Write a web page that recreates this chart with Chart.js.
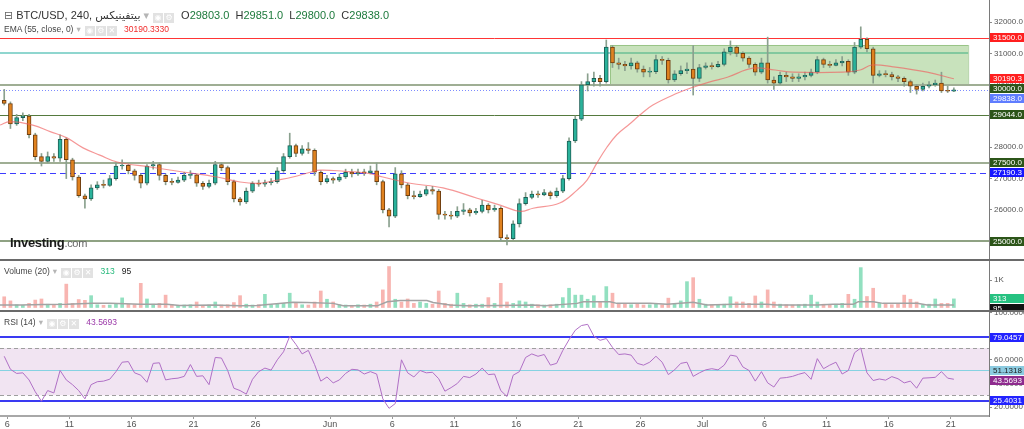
<!DOCTYPE html>
<html lang="en">
<head>
<meta charset="UTF-8">
<meta name="viewport" content="width=device-width, initial-scale=1.0">
<title>BTC/USD, 240</title>
<script src="https://cdn.jsdelivr.net/npm/chart.js"></script>
<style>
  body { margin: 0; background: #fff; font-family: 'Liberation Sans', Arial, 'DejaVu Sans', sans-serif; }
  #board { position: relative; width: 1024px; height: 429px; overflow: hidden; background: #fff; }
  #board canvas { position: absolute; left: 0; }
  #priceCanvas { top: 0; }
  #volCanvas { top: 261px; }
  #rsiCanvas { top: 312px; }
  .sep { position: absolute; left: 0; width: 1024px; height: 2px; background: #6a6a6a; }
  .legend { position: absolute; left: 4px; white-space: nowrap; color: #444; }
  .legend .dd { color: #b5b5b5; margin: 0 4px 0 3px; }
  .ic { display: inline-block; width: 10px; height: 10px; background: #e2e2e2; color: #fff; font-size: 8px; line-height: 10px; text-align: center; margin-right: 1px; vertical-align: -1px; font-family: 'DejaVu Sans', sans-serif; }
  .ohlc i { font-style: normal; color: #1d7a3c; }
  .logo { position: absolute; left: 10px; top: 235px; font-size: 13px; font-weight: bold; color: #1b1b1b; letter-spacing: -0.3px; }
  .logo span { font-weight: normal; color: #666; font-size: 11px; }
</style>
</head>
<body>
<div id="board">
  <canvas id="priceCanvas" width="1024" height="259"></canvas>
  <div class="sep" style="top:259px"></div>
  <canvas id="volCanvas" width="1024" height="49"></canvas>
  <div class="sep" style="top:310px"></div>
  <canvas id="rsiCanvas" width="1024" height="117"></canvas>

  <div class="legend" style="top:8px;font-size:11px;line-height:14px;color:#333">
    <span style="color:#666;font-family:'DejaVu Sans',sans-serif">⊟</span> BTC/USD, 240, <bdi>بيتفينيكس</bdi><span class="dd">▾</span><span class="ic">◉</span><span class="ic">⚙</span>
    <span class="ohlc" style="margin-left:3px">O<i>29803.0</i>&nbsp; H<i>29851.0</i>&nbsp; L<i>29800.0</i>&nbsp; C<i>29838.0</i></span>
  </div>
  <div class="legend" style="top:24px;font-size:8.5px;line-height:11px">
    EMA (55, close, 0)<span class="dd">▾</span><span class="ic">◉</span><span class="ic">⚙</span><span class="ic">✕</span>
    <span style="color:#f02a2a;margin-left:4px">30190.3330</span>
  </div>
  <div class="logo">Investing<span>.com</span></div>
  <div class="legend" style="top:266px;font-size:8.5px;line-height:11px">
    Volume (20)<span class="dd">▾</span><span class="ic">◉</span><span class="ic">⚙</span><span class="ic">✕</span>
    <span style="color:#25b97c;margin-left:4px">313</span>&nbsp;&nbsp; <span style="color:#222">95</span>
  </div>
  <div class="legend" style="top:317px;font-size:8.5px;line-height:11px">
    RSI (14)<span class="dd">▾</span><span class="ic">◉</span><span class="ic">⚙</span><span class="ic">✕</span>
    <span style="color:#9b38a8;margin-left:4px">43.5693</span>
  </div>
</div>

<script>
  // 12h candles, index 0 = May 5 12:00 ... 153 = Jul 21 00:00
  const opens = [
    29500,29400,28750,28950,29000,28400,27700,27550,27700,27650,
    28250,27600,27050,26450,26350,26700,26800,26780,27000,27400,
    27420,27250,27100,26850,27400,27450,27100,26900,26880,26950,
    27100,27120,26850,26750,26850,27450,27350,26900,26350,26250,
    26600,26850,26820,26870,26900,27250,27700,28050,27800,27950,
    27900,27200,26900,27000,26950,27050,27200,27150,27200,27180,
    27250,26900,26000,25800,27150,26800,26450,26420,26500,26650,
    26600,25850,25830,25800,25950,26000,25900,25950,26150,26000,
    26050,25100,25080,25550,26200,26400,26500,26480,26550,26450,
    26600,27000,28200,28900,30000,30100,30200,30100,31200,30700,
    30650,30600,30700,30500,30400,30420,30800,30780,30150,30350,
    30450,30500,30200,30550,30600,30580,30650,31050,31200,31000,
    30850,30650,30400,30700,30150,30050,30300,30250,30200,30250,
    30300,30400,30800,30650,30620,30700,30750,30400,31200,31450,
    31150,30300,30350,30320,30250,30200,30100,29950,29850,29950,
    30000,30050,29800,29790
  ];
  const highs = [
    29850,29450,29050,29100,29050,28450,27800,27850,27800,28400,
    28300,27650,27100,26500,26800,26900,26950,27100,27500,27600,
    27450,27300,27150,27450,27550,27500,27150,27000,27050,27200,
    27250,27150,26900,26950,27550,27500,27400,26950,26400,26700,
    26900,26950,26950,27000,27350,27800,28450,28100,28050,28150,
    27950,27250,27100,27050,27150,27300,27300,27300,27300,27400,
    27500,26950,26050,27350,27250,26850,26600,26600,26750,26750,
    26650,25950,25950,26100,26200,26050,26050,26300,26200,26150,
    26100,25200,25650,26350,26550,26600,26600,26650,26600,26700,
    27100,28300,29000,30100,30350,30400,30300,31430,31250,30850,
    30750,30850,30750,30600,30550,30950,30900,30850,30450,30600,
    30700,31250,30650,30700,30700,30750,31150,31400,31250,31050,
    30900,30700,30850,31520,30250,30400,30400,30350,30350,30400,
    30500,30900,30850,30750,30800,30900,30800,31350,31850,31500,
    31200,30450,30450,30400,30300,30250,30150,30000,30050,30100,
    30150,30400,29950,29900
  ];
  const lows = [
    29350,28600,28700,28850,28300,27600,27400,27500,27550,27550,
    27000,26950,26400,26050,26300,26650,26700,26750,26950,27300,
    27150,26950,26700,26800,27300,26950,26800,26800,26850,26900,
    27000,26750,26650,26700,26800,27250,26800,26250,26150,26200,
    26550,26750,26750,26800,26850,27200,27650,27700,27750,27800,
    27100,26800,26850,26850,26900,27000,27050,27100,27100,27150,
    26800,25900,25450,25750,26700,26350,26350,26400,26450,26500,
    25700,25700,25700,25750,25850,25800,25850,25900,25900,25950,
    25000,24880,25050,25450,26150,26350,26400,26450,26350,26400,
    26550,26950,28150,28850,29800,29950,29950,30050,30550,30500,
    30450,30500,30400,30250,30250,30350,30650,30050,30100,30300,
    30350,29670,30100,30500,30500,30550,30600,30950,30900,30750,
    30550,30300,30350,30050,29850,30000,30100,30100,30100,30150,
    30250,30350,30550,30550,30600,30600,30300,30350,31150,31050,
    30050,30250,30250,30150,30100,29950,29750,29700,29800,29900,
    29950,29750,29750,29780
  ];
  const closes = [
    29400,28750,28950,29000,28400,27700,27550,27700,27650,28250,
    27600,27050,26450,26350,26700,26800,26780,27000,27400,27420,
    27250,27100,26850,27400,27450,27100,26900,26880,26950,27100,
    27120,26850,26750,26850,27450,27350,26900,26350,26250,26600,
    26850,26820,26870,26900,27250,27700,28050,27800,27950,27900,
    27200,26900,27000,26950,27050,27200,27150,27200,27180,27250,
    26900,26000,25800,27150,26800,26450,26420,26500,26650,26600,
    25850,25830,25800,25950,26000,25900,25950,26150,26000,26050,
    25100,25080,25550,26200,26400,26500,26480,26550,26450,26600,
    27000,28200,28900,30000,30100,30200,30100,31200,30700,30650,
    30600,30700,30500,30400,30420,30800,30780,30150,30350,30450,
    30500,30200,30550,30600,30580,30650,31050,31200,31000,30850,
    30650,30400,30700,30150,30050,30300,30250,30200,30250,30300,
    30400,30800,30650,30620,30700,30750,30400,31200,31450,31150,
    30300,30350,30320,30250,30200,30100,29950,29850,29950,30000,
    30050,29800,29790,29838
  ];
  const volumes = [
    390,240,100,80,150,270,310,120,90,150,
    850,150,290,260,430,100,80,90,150,350,
    120,100,880,310,120,150,450,100,80,90,
    100,200,80,90,200,90,100,180,430,120,
    90,100,480,100,120,150,520,150,100,90,
    200,600,300,200,100,90,80,100,90,120,
    200,640,1490,300,200,310,150,200,150,120,
    600,150,120,520,150,100,120,120,360,150,
    880,200,150,240,200,120,100,90,100,120,
    360,700,450,450,300,430,200,760,520,150,
    120,100,120,90,100,120,100,340,150,240,
    940,1085,300,120,100,90,120,390,200,200,
    150,420,200,640,200,120,100,90,100,120,
    450,200,120,100,120,150,480,300,1450,400,
    700,150,120,100,150,450,300,200,100,120,
    310,150,150,313
  ];
  const rsiValues = [
    63,52,48.5,49,43,33,25,34,32,51,
    43,39,34,27,39,41.5,42,43.6,50,58,
    58.5,49,47,41,57,57.5,43,44,44.5,46,
    56,46,46.5,39,62,61.5,51,36,34,31,
    43.5,50,53,51.3,60,66.8,80,73,65,68,
    56,42,45.5,40.5,43,48.5,52,51.5,48,50,
    48,27,19,23,60,49,45.5,51,49,49.5,
    44,33.5,36.5,40,46,45,48,53,47.5,48,
    34,29,47,50,62,65,63,64.5,55.5,57,
    68,77,85,89,90,80,76.5,78,70.5,64.5,
    65,64,57,55.5,58,63,58,47.5,51.5,57,
    58,46,49,51.5,52.5,51.5,55.5,64,63,54,
    51,42,50,40.5,37,44.5,45,46,47.8,49.2,
    43.5,61,52.5,55.5,58,48,51,66,70,49,
    42.5,43.8,42.8,45.8,44,40.5,42,36,44.5,44.8,
    45.2,50,44.5,43.57
  ];
  // EMA(55) at these candle positions
  const emaPos = [-0.68,0.9,4.6,7.4,10.1,12.7,15.4,18.2,23.5,28.8,34.3,38.0,41.2,44.0,46.5,49.3,50.9,54.9,58.5,61.0,65.4,70.7,76.2,79.9,83.1,85.2,89.5,92.3,93.9,95.5,97.1,98.7,100.8,102.4,104.5,108.4,111.0,113.7,116.5,120.6,124.2,127.1,135.1,137.9,139.8,143.2,148.7,153];
  const emaValues = [28710,28820,28710,28500,28300,27980,27750,27530,27370,27210,27050,26890,26850,26950,27050,27200,27270,27230,27170,27050,26850,26700,26370,26150,25950,26050,26220,26630,26950,27500,28000,28400,28750,29030,29350,29725,29920,30090,30240,30530,30470,30400,30400,30470,30630,30570,30400,30190];
  const volMaPos = [-0.68,2.6,6.3,10.1,14.3,17.1,21.9,26.2,28.3,33.6,38.0,40.7,46.5,48.8,53.0,54.6,60.1,61.7,63.8,68.1,69.1,71.8,74.6,79.9,85.2,87.1,92.3,93.3,97.6,98.7,104.1,106.8,111.0,113.2,117.4,122.9,124.5,131.0,133.5,136.8,137.6,140.0,141.6,147.1,148.7,153];
  const volMaValues = [90,90,110,115,150,150,115,115,70,90,65,70,190,180,150,60,60,210,250,250,180,90,60,75,90,67,150,210,210,150,150,115,188,90,115,115,90,90,115,115,212,212,150,150,91,95];

  const dateTickPos = [0.5,10.5,20.5,30.5,40.5,52.5,62.5,72.5,82.5,92.5,102.5,112.5,122.5,132.5,142.5,152.5];
  const dateTickLabels = ['6','11','16','21','26','Jun','6','11','16','21','26','Jul','6','11','16','21'];
  const priceTicks = [25000,26000,27000,28000,29000,30000,31000,32000];
  const volTicks = [1000];
  const rsiTicks = [20,40,60,80,100];

  const levelValues = [31500, 30000, 29044, 27500, 27190.3, 25000];
  const channelLevel = 31000;
  const zoneHigh = 31270, zoneLow = 30000, zoneFrom = 97.6, zoneTo = 155.3;
  const lastPrice = 29838.0, emaLast = 30190.333;
  const lastVolume = 313, lastVolMa = 95;
  const rsiLast = 43.5693, rsiUpper = 79.0457, rsiMid = 51.1318, rsiLower = 25.4031;
  const rsiBand = [30, 70];

  const X_MIN = -0.68, X_MAX = 158.66;
  const FONT = "'Liberation Sans', Arial, sans-serif";
  const isUp = closes.map((c, i) => c >= opens[i]);

  function hLine(ctx, x1, x2, y, color, width, dash) {
    const py = width % 2 ? Math.round(y) + 0.5 : Math.round(y);
    ctx.save();
    ctx.strokeStyle = color;
    ctx.lineWidth = width;
    ctx.setLineDash(dash || []);
    ctx.beginPath();
    ctx.moveTo(x1, py);
    ctx.lineTo(x2, py);
    ctx.stroke();
    ctx.restore();
  }

  function drawTags(chart, tags) {
    const { ctx, chartArea: a, scales: { y } } = chart;
    const boxH = 9, minGap = 10;
    const list = tags.map(t => ({ ...t, py: y.getPixelForValue(t.value) })).sort((p, q) => p.py - q.py);
    for (let k = 1; k < list.length; k++) {
      if (list[k].py < list[k - 1].py + minGap) list[k].py = list[k - 1].py + minGap;
    }
    ctx.save();
    ctx.font = '8px ' + FONT;
    ctx.textBaseline = 'middle';
    list.forEach(t => {
      const top = Math.round(t.py - boxH / 2);
      ctx.fillStyle = t.bg;
      ctx.fillRect(a.right + 1, top, chart.width - a.right - 1, boxH);
      ctx.fillStyle = t.fg;
      ctx.fillText(t.text, a.right + 4, top + boxH / 2 + 0.5);
    });
    ctx.restore();
  }

  function rightAxis(min, max, tickVals, fmt) {
    return {
      position: 'right', min, max, beginAtZero: false,
      afterBuildTicks: s => { s.ticks = tickVals.map(v => ({ value: v })); },
      afterFit: s => { s.width = 35; s.paddingTop = 0; s.paddingBottom = 0; },
      grid: { drawOnChartArea: false, drawTicks: true, tickLength: 3, color: '#8c8c8c' },
      border: { color: '#7a7a7a', width: 1 },
      ticks: { callback: fmt, font: { family: FONT, size: 8 }, color: '#555', padding: 2, autoSkip: false }
    };
  }
  const hiddenX = { type: 'linear', min: X_MIN, max: X_MAX, offset: false, display: false, grid: { offset: false } };
  const baseOptions = {
    responsive: false, animation: false, events: [],
    layout: { padding: 0 },
    plugins: { legend: { display: false }, tooltip: { enabled: false } }
  };

  // ---------- price panel ----------
  const priceDecor = {
    id: 'priceDecor',
    beforeDatasetsDraw(chart) {
      const { ctx, chartArea: a, scales: { x, y } } = chart;
      const zx1 = x.getPixelForValue(zoneFrom), zx2 = x.getPixelForValue(zoneTo);
      hLine(ctx, a.left, zx2, y.getPixelForValue(channelLevel), '#8fd6cf', 2);
      const zy1 = y.getPixelForValue(zoneHigh), zy2 = y.getPixelForValue(zoneLow);
      ctx.save();
      ctx.fillStyle = 'rgba(110,180,80,0.38)';
      ctx.fillRect(zx1, zy1, zx2 - zx1, zy2 - zy1);
      ctx.strokeStyle = 'rgba(95,160,70,0.45)';
      ctx.lineWidth = 1;
      ctx.strokeRect(Math.round(zx1) + 0.5, Math.round(zy1) + 0.5, zx2 - zx1, zy2 - zy1);
      ctx.restore();
      const styles = [
        ['#ff3535', 1], ['#9fae94', 2], ['#557a3e', 1], ['#9fae94', 2], ['#3d3dff', 1, [6, 4]], ['#8fa283', 2]
      ];
      levelValues.forEach((v, k) => hLine(ctx, a.left, a.right, y.getPixelForValue(v), styles[k][0], styles[k][1], styles[k][2]));
      hLine(ctx, a.left, a.right, y.getPixelForValue(lastPrice), '#7d8cff', 1, [1, 2]);
    },
    afterDraw(chart) {
      const green = '#2c5519';
      drawTags(chart, [
        { value: levelValues[0], text: levelValues[0].toFixed(1), bg: '#ff1f1f', fg: '#fff' },
        { value: emaLast, text: emaLast.toFixed(1), bg: '#ff1f1f', fg: '#fff' },
        { value: levelValues[1], text: levelValues[1].toFixed(1), bg: green, fg: '#fff' },
        { value: lastPrice, text: lastPrice.toFixed(1), bg: '#5f7dff', fg: '#fff' },
        { value: levelValues[2], text: levelValues[2].toFixed(1), bg: green, fg: '#fff' },
        { value: levelValues[3], text: levelValues[3].toFixed(1), bg: green, fg: '#fff' },
        { value: levelValues[4], text: levelValues[4].toFixed(1), bg: '#1515ff', fg: '#fff' },
        { value: levelValues[5], text: levelValues[5].toFixed(1), bg: green, fg: '#fff' }
      ]);
    }
  };

  new Chart(document.getElementById('priceCanvas'), {
    type: 'bar',
    data: {
      datasets: [
        {
          data: highs.map((h, i) => ({ x: i, y: [lows[i], h] })),
          backgroundColor: '#8aa08e', barThickness: 1, grouped: false, order: 3
        },
        {
          data: closes.map((c, i) => ({ x: i, y: [opens[i], c] })),
          backgroundColor: isUp.map(u => u ? '#2ab29b' : '#e0821f'),
          borderColor: isUp.map(u => u ? '#1d5f55' : '#6e3d10'),
          borderWidth: 1, borderSkipped: false, barThickness: 4, minBarLength: 1, grouped: false, order: 2
        },
        {
          type: 'line',
          data: emaPos.map((p, k) => ({ x: p, y: emaValues[k] })),
          borderColor: 'rgba(240,95,95,0.65)', borderWidth: 1.2, pointRadius: 0, tension: 0.4, order: 1
        }
      ]
    },
    options: {
      ...baseOptions,
      scales: {
        x: hiddenX,
        y: rightAxis(24428, 32708, priceTicks, v => v.toFixed(1))
      }
    },
    plugins: [priceDecor]
  });

  // ---------- volume panel ----------
  const volDecor = {
    id: 'volDecor',
    afterDraw(chart) {
      drawTags(chart, [
        { value: lastVolume, text: String(lastVolume), bg: '#26c281', fg: '#fff' },
        { value: lastVolMa, text: String(lastVolMa), bg: '#111', fg: '#fff' }
      ]);
    }
  };
  new Chart(document.getElementById('volCanvas'), {
    type: 'bar',
    data: {
      datasets: [
        {
          data: volumes.map((v, i) => ({ x: i, y: v })),
          backgroundColor: isUp.map(u => u ? 'rgba(38,194,129,0.5)' : 'rgba(242,108,100,0.5)'),
          barThickness: 3, grouped: false, order: 2
        },
        {
          type: 'line',
          data: volMaPos.map((p, k) => ({ x: p, y: volMaValues[k] })),
          borderColor: '#a3a3a3', borderWidth: 1.5, pointRadius: 0, tension: 0, order: 1
        }
      ]
    },
    options: {
      ...baseOptions,
      scales: {
        x: hiddenX,
        y: rightAxis(-91, 1691, volTicks, v => (v / 1000) + 'K')
      }
    },
    plugins: [volDecor]
  });

  // ---------- RSI panel ----------
  const rsiDecor = {
    id: 'rsiDecor',
    beforeDatasetsDraw(chart) {
      const { ctx, chartArea: a, scales: { y } } = chart;
      const yHi = y.getPixelForValue(rsiBand[1]), yLo = y.getPixelForValue(rsiBand[0]);
      ctx.save();
      ctx.fillStyle = '#f1e4f2';
      ctx.fillRect(a.left, yHi, a.right - a.left, yLo - yHi);
      ctx.restore();
      hLine(ctx, a.left, a.right, yHi, '#9e9e9e', 1, [4, 3]);
      hLine(ctx, a.left, a.right, yLo, '#9e9e9e', 1, [4, 3]);
      hLine(ctx, a.left, a.right, y.getPixelForValue(rsiMid), '#86d2e2', 1);
      hLine(ctx, a.left, a.right, y.getPixelForValue(rsiUpper), '#3a3af2', 2);
      hLine(ctx, a.left, a.right, y.getPixelForValue(rsiLower), '#3a3af2', 2);
    },
    afterDraw(chart) {
      drawTags(chart, [
        { value: rsiUpper, text: rsiUpper.toFixed(4), bg: '#2323ff', fg: '#fff' },
        { value: rsiMid, text: rsiMid.toFixed(4), bg: '#8ccbe0', fg: '#1d1d1d' },
        { value: rsiLast, text: rsiLast.toFixed(4), bg: '#8e2b8e', fg: '#fff' },
        { value: rsiLower, text: rsiLower.toFixed(4), bg: '#2323ff', fg: '#fff' }
      ]);
    }
  };
  new Chart(document.getElementById('rsiCanvas'), {
    type: 'line',
    data: {
      datasets: [{
        data: rsiValues.map((v, i) => ({ x: i, y: v })),
        borderColor: '#b070c6', borderWidth: 1, pointRadius: 0, tension: 0
      }]
    },
    options: {
      ...baseOptions,
      scales: {
        x: {
          type: 'linear', min: X_MIN, max: X_MAX, offset: false, position: 'bottom',
          afterBuildTicks: s => { s.ticks = dateTickPos.map(v => ({ value: v })); },
          afterFit: s => { s.height = 13; s.paddingLeft = 0; s.paddingRight = 0; },
          grid: { drawOnChartArea: false, drawTicks: true, tickLength: 3, color: '#9a9a9a' },
          border: { color: '#a8a8a8', width: 2 },
          ticks: { callback: (v, i) => dateTickLabels[i], font: { family: FONT, size: 9 }, color: '#555', padding: 0, maxRotation: 0, autoSkip: false }
        },
        y: rightAxis(12.5, 100.44, rsiTicks, v => v.toFixed(4))
      }
    },
    plugins: [rsiDecor]
  });
</script>
</body>
</html>
